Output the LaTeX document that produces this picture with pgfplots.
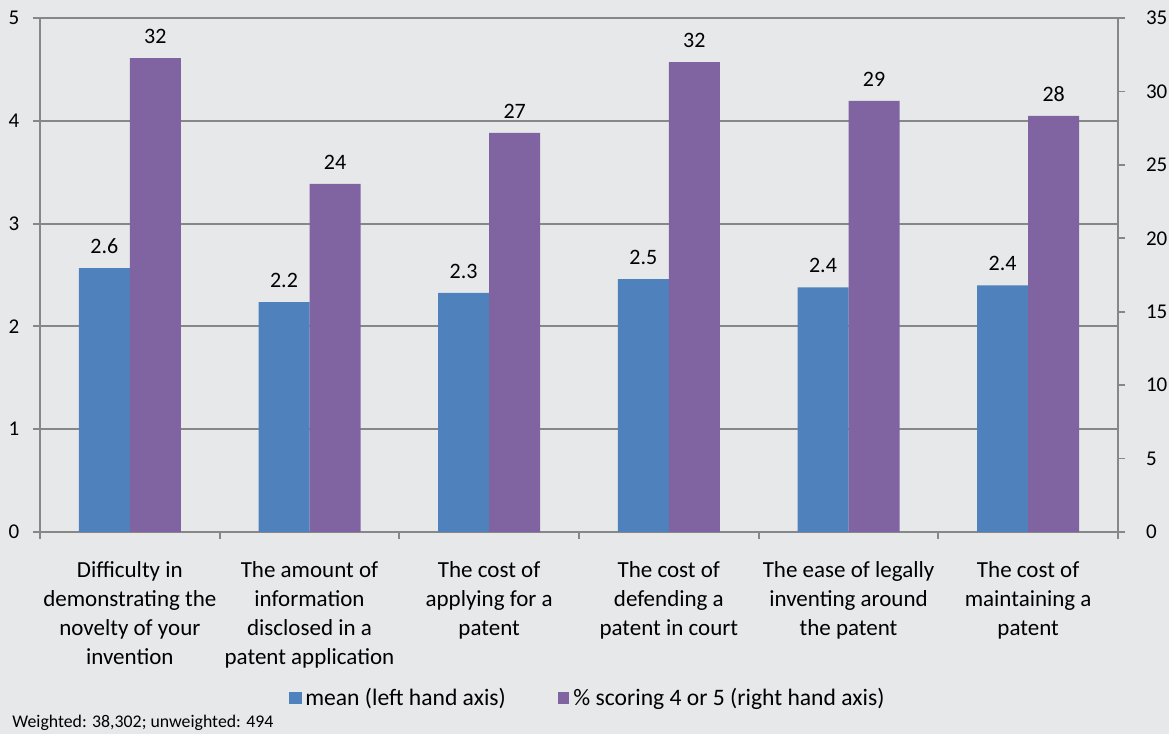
\documentclass[border=0pt]{standalone}
\usepackage{pgfplots}
\pgfplotsset{compat=1.18}
\usepackage{fontspec}
\setmainfont{Carlito}

\definecolor{bg}{HTML}{E7E8EA}
\definecolor{meanblue}{HTML}{4F81BD}
\definecolor{pctpurple}{HTML}{8064A2}
\definecolor{axisgrey}{HTML}{878787}

\pgfplotsset{
  chartbase/.style={
    scale only axis,
    width=539pt, height=257pt,
    at={(20pt,101pt)}, anchor=south west,
    xmin=0.5, xmax=6.5,
    ybar, bar width=25.5pt,
    axis line style={axisgrey, line width=0.9pt},
    tick style={axisgrey, line width=0.9pt},
    tick align=outside,
    major tick length=3.5pt,
    minor tick length=3.5pt,
    ymin=0,
    /pgf/number format/assume math mode=true,
    yticklabel style={font=\fontsize{10.5}{12}\selectfont},
    nodes near coords,
    every node near coord/.append style={font=\fontsize{11}{13}\selectfont, black, yshift=3.8pt},
  }
}

\begin{document}
\begin{tikzpicture}
  \path[use as bounding box, fill=bg] (0,0) rectangle (584.5pt,367pt);

  % left axis: mean score
  \begin{axis}[
      chartbase,
      axis x line*=bottom,
      axis y line*=left,
      ymax=5, ytick={0,...,5},
      ymajorgrids,
      grid style={axisgrey, line width=0.9pt},
      xtick={1,...,6},
      major x tick style={draw=none},
      minor xtick={0.5,1.5,...,6.5},
      xticklabels={
          {Difficulty in\\demonstrating the\\novelty of your\\invention},
          {The amount of\\information\\disclosed in a\\patent application},
          {The cost of\\applying for a\\patent},
          {The cost of\\defending a\\patent in court},
          {The ease of legally\\inventing around\\the patent},
          {The cost of\\maintaining a\\patent}},
      xticklabel style={align=center, anchor=north, yshift=-7.5pt,
          font=\fontsize{11.5}{14.5}\selectfont},
      yticklabel style={xshift=-3.3pt},
      bar shift=-12.75pt,
      every node near coord/.append style={/pgf/number format/fixed, /pgf/number format/fixed zerofill, /pgf/number format/precision=1},
    ]
    \addplot[fill=meanblue, draw=none] coordinates {
        (1,2.568) (2,2.237) (3,2.325) (4,2.46) (5,2.38) (6,2.40)
      };
  \end{axis}

  % right axis: percentage scoring 4 or 5
  \begin{axis}[
      chartbase,
      axis x line=none,
      axis y line*=right,
      ymax=35, ytick={0,5,...,35},
      xtick=\empty,
      yticklabel style={anchor=west, xshift=7pt},
      bar shift=12.75pt,
      every node near coord/.append style={/pgf/number format/fixed, /pgf/number format/precision=0},
      legend columns=2,
      legend style={at={(0.509,-0.323)}, anchor=center, draw=none, fill=none,
          font=\fontsize{11.8}{14}\selectfont,
          /tikz/every even column/.append style={column sep=24pt}},
    ]
    \addlegendimage{legend image code/.code={\fill[meanblue] (-1.5pt,-2.9pt) rectangle (4.3pt,2.9pt);}}
    \addlegendentry{mean (left hand axis)}
    \addplot[fill=pctpurple, draw=none,
        legend image code/.code={\fill[pctpurple] (-1.5pt,-2.9pt) rectangle (4.3pt,2.9pt);}]
      coordinates {
        (1,32.27) (2,23.7) (3,27.17) (4,32.0) (5,29.35) (6,28.33)
      };
    \addlegendentry{\% scoring 4 or 5 (right hand axis)}
  \end{axis}

  \node[anchor=base west, font=\fontsize{8.9}{10}\selectfont, inner sep=0pt]
    at (6pt,3pt) {Weighted: 38,302; unweighted: 494};
\end{tikzpicture}
\end{document}
